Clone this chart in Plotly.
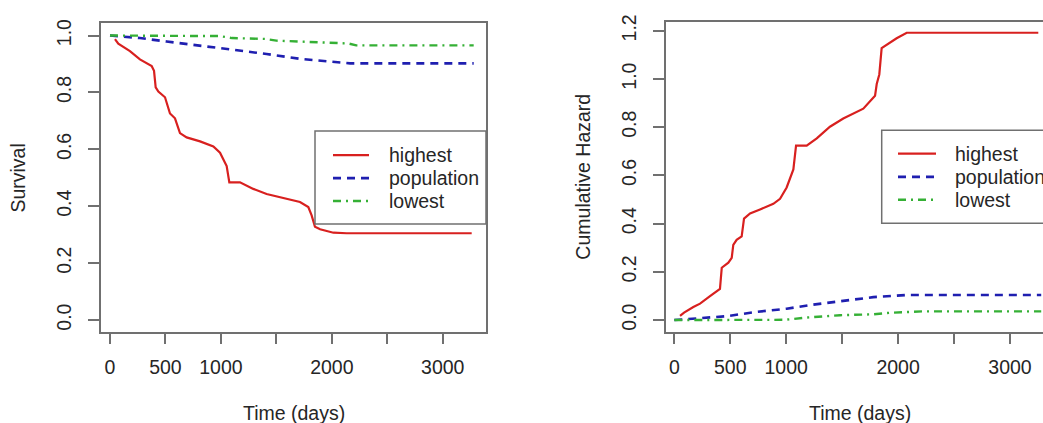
import plotly.graph_objects as go

# ---- Kaplan-Meier survival estimates (days, survival probability) ----
t_high_surv = [45, 75, 180, 270, 376, 397, 412, 436, 496, 511, 541, 586, 607, 631, 691, 812,
               932, 992, 1052, 1076, 1172, 1292, 1412, 1593, 1713, 1788, 1818, 1848, 1894,
               2014, 2134, 3261]
s_high = [0.987, 0.971, 0.945, 0.916, 0.893, 0.876, 0.818, 0.803, 0.783, 0.766, 0.726, 0.709,
          0.685, 0.657, 0.642, 0.628, 0.610, 0.588, 0.541, 0.484, 0.484, 0.461, 0.443, 0.426,
          0.415, 0.397, 0.368, 0.328, 0.319, 0.307, 0.305, 0.305]

t_pop_surv = [0, 270, 511, 812, 1112, 1412, 1713, 2014, 2164, 3279]
s_pop = [1.0, 0.991, 0.979, 0.965, 0.950, 0.935, 0.918, 0.907, 0.902, 0.902]

t_low_surv = [0, 990, 1100, 1400, 1500, 1800, 1900, 2150, 2220, 3279]
s_low = [1.0, 0.998, 0.991, 0.988, 0.982, 0.978, 0.976, 0.972, 0.9655, 0.9655]

# ---- Cumulative hazard estimates (days, cumulative hazard) ----
t_high_haz = [51, 87, 170, 230, 319, 379, 408, 424, 483, 513, 527, 557, 602, 623, 677, 766,
              885, 945, 1004, 1064, 1088, 1183, 1273, 1391, 1510, 1689, 1778, 1794, 1809, 1832,
              1853, 1898, 1987, 2077, 3253]
h_high = [0.0175, 0.031, 0.054, 0.068, 0.099, 0.118, 0.129, 0.217, 0.238, 0.258, 0.312, 0.333,
          0.347, 0.421, 0.442, 0.459, 0.482, 0.503, 0.550, 0.625, 0.724, 0.724, 0.754, 0.802,
          0.836, 0.877, 0.924, 0.931, 0.979, 1.019, 1.128, 1.142, 1.169, 1.192, 1.192]

t_pop_haz = [0, 274, 468, 736, 1004, 1242, 1481, 1778, 2077, 3279]
h_pop = [0.0, 0.009, 0.016, 0.034, 0.047, 0.064, 0.079, 0.095, 0.104, 0.104]

t_low_haz = [0, 990, 1161, 1481, 1778, 1927, 2224, 3279]
h_low = [0.0, 0.001, 0.0095, 0.020, 0.024, 0.030, 0.036, 0.036]

# ---- axis ticks ----
x_tickvals = [0, 500, 1000, 1500, 2000, 2500, 3000]
x_ticktext = ["0", "500", "1000", "", "2000", "", "3000"]
surv_tickvals = [0.0, 0.2, 0.4, 0.6, 0.8, 1.0]
surv_ticktext = ["0.0", "0.2", "0.4", "0.6", "0.8", "1.0"]
haz_tickvals = [0.0, 0.2, 0.4, 0.6, 0.8, 1.0, 1.2]
haz_ticktext = ["0.0", "0.2", "0.4", "0.6", "0.8", "1.0", "1.2"]

group_names = ["highest", "population", "lowest"]

# ---- styling ----
W, H = 1043, 423
FONT = "Liberation Sans, Arial, sans-serif"
FS = 19.5
TXT = "#262626"
AX = "#707070"
RED = "#d8201f"
BLUE = "#1f1fb0"
GREEN = "#35b035"
LW = 2.2
styles = [
    dict(color=RED, width=LW, dash="solid"),
    dict(color=BLUE, width=LW + 0.4, dash="8px,6px"),
    dict(color=GREEN, width=LW + 0.2, dash="8px,5px,2px,5px"),
]


def px(x):
    return x / W


def py(y):
    return 1 - y / H


fig = go.Figure()

surv_series = [(t_high_surv, s_high), (t_pop_surv, s_pop), (t_low_surv, s_low)]
haz_series = [(t_high_haz, h_high), (t_pop_haz, h_pop), (t_low_haz, h_low)]

for (t, s), st, nm in zip(surv_series, styles, group_names):
    fig.add_trace(go.Scatter(x=t, y=s, mode="lines", line=st, name=nm,
                             showlegend=False, xaxis="x", yaxis="y"))
for (t, h), st, nm in zip(haz_series, styles, group_names):
    fig.add_trace(go.Scatter(x=t, y=h, mode="lines", line=st, name=nm,
                             showlegend=False, xaxis="x2", yaxis="y2"))

common_x = dict(
    tickmode="array", tickvals=x_tickvals, ticktext=x_ticktext,
    ticks="outside", ticklen=11, tickwidth=1.5, tickcolor=AX,
    showline=True, linecolor=AX, linewidth=1.5,
    showgrid=False, zeroline=False, ticklabelstandoff=6,
    tickfont=dict(family=FONT, size=FS, color=TXT),
)
common_y = dict(
    tickmode="array", ticks="outside", ticklen=11, tickwidth=1.5, tickcolor=AX,
    showline=True, linecolor=AX, linewidth=1.5,
    showgrid=False, zeroline=False, tickangle=-90, ticklabelstandoff=9,
    tickfont=dict(family=FONT, size=FS, color=TXT),
)

fig.update_layout(
    width=W, height=H,
    margin=dict(l=0, r=0, t=0, b=0),
    paper_bgcolor="white", plot_bgcolor="white",
    showlegend=False,
    xaxis=dict(domain=[px(101), px(486)], range=[-81, 3390], anchor="y", mirror=True, **common_x),
    yaxis=dict(domain=[py(330), py(16.7)], range=[-0.0404, 1.0425], anchor="x", mirror=True,
               tickvals=surv_tickvals, ticktext=surv_ticktext, **common_y),
    xaxis2=dict(domain=[px(665.7), 1.0], range=[-77, 3295], anchor="y2", mirror=True, **common_x),
    yaxis2=dict(domain=[py(330), py(15)], range=[-0.0477, 1.2376], anchor="x2", mirror=False,
                tickvals=haz_tickvals, ticktext=haz_ticktext, **common_y),
)

annotations = []
shapes = []

# axis titles
for xc, yc, text, ang in [(294, 413, "Time (days)", 0), (860, 413, "Time (days)", 0),
                          (18.5, 174, "Survival", -90), (583.5, 173, "Cumulative Hazard", -90)]:
    annotations.append(dict(x=px(xc), y=py(yc), xref="paper", yref="paper", text=text,
                            showarrow=False, textangle=ang, xanchor="center", yanchor="middle",
                            font=dict(family=FONT, size=FS, color=TXT)))

# legend panels (box, sample lines, labels)
legends = [
    dict(box=(315, 126, 486, 220.7), seg=(333, 369), tx=387, rows=[150.7, 174, 197.3]),
    dict(box=(881.7, 125.3, 1060, 220), seg=(898, 936), tx=953, rows=[149, 172.7, 196]),
]
for lg in legends:
    x0, y0, x1, y1 = lg["box"]
    shapes.append(dict(type="rect", xref="paper", yref="paper",
                       x0=px(x0), x1=px(x1), y0=py(y1), y1=py(y0),
                       line=dict(color=AX, width=1.5), fillcolor="white", layer="above"))
    for yr, st, nm in zip(lg["rows"], styles, group_names):
        shapes.append(dict(type="line", xref="paper", yref="paper",
                           x0=px(lg["seg"][0]), x1=px(lg["seg"][1]), y0=py(yr), y1=py(yr),
                           line=st, layer="above"))
        annotations.append(dict(x=px(lg["tx"]), y=py(yr), xref="paper", yref="paper",
                                text=nm, showarrow=False, xanchor="left", yanchor="middle",
                                font=dict(family=FONT, size=FS, color=TXT)))

fig.update_layout(annotations=annotations, shapes=shapes)

fig.write_html("out.html")
